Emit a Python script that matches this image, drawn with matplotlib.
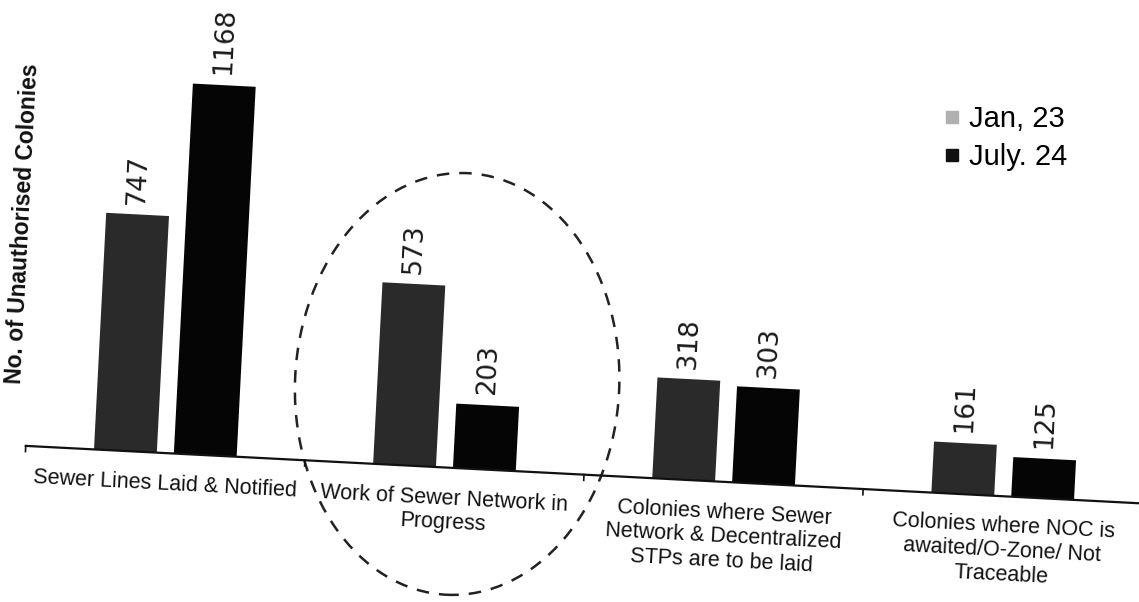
import matplotlib
matplotlib.use("Agg")
import matplotlib.pyplot as plt
from matplotlib.patches import Ellipse
from matplotlib.lines import Line2D
from matplotlib.transforms import Affine2D
import numpy as np

categories = [
    "Sewer Lines Laid & Notified",
    "Work of Sewer Network in\nProgress",
    "Colonies where Sewer\nNetwork & Decentralized\nSTPs are to be laid",
    "Colonies where NOC is\nawaited/O-Zone/ Not\nTraceable",
]
jan_23 = [747, 573, 318, 161]
july_24 = [1168, 203, 303, 125]
series_names = ["Jan, 23", "July. 24"]

plt.rcParams["font.family"] = ["Liberation Sans", "DejaVu Sans"]

W, H = 1139, 602
fig = plt.figure(figsize=(W / 100, H / 100), dpi=100)
# axes placed in pixels; the whole plot is tilted afterwards like the scan
ax = fig.add_axes([25.75 / W, 156 / H, 1118 / W, 444 / H])
ax.set_xlim(-0.5, 3.5)
ax.set_ylim(0, 1400)
ax.axis("off")

x = np.arange(len(categories))
bw = 0.225
off = 0.143
ax.bar(x - off, jan_23, bw, color="#2a2a2a")
ax.bar(x + off, july_24, bw, color="#050505")

for xi, v in zip(x - off, jan_23):
    ax.text(xi, v + 30, str(v), rotation=90, ha="center", va="bottom",
            fontsize=19, family="DejaVu Sans", color="#1a1a1a")
for xi, v in zip(x + off, july_24):
    ax.text(xi, v + 30, str(v), rotation=90, ha="center", va="bottom",
            fontsize=19, family="DejaVu Sans", color="#1a1a1a")

# baseline + ticks between categories
ax.plot([-0.5, 3.5], [0, 0], color="#111111", lw=1.6)
for b in np.arange(len(categories) + 1) - 0.5:
    ax.plot([b, b], [0, -18], color="#111111", lw=1.2)

for xi, lab in zip(x, categories):
    ax.text(xi, -45, lab, ha="center", va="top", fontsize=15.5, color="#111111")

# dashed ellipse around "work in progress"
ax.add_patch(Ellipse((1.03, 265), 1.16, 1331, fill=False, ls=(0, (5, 4)),
                     lw=1.8, ec="#222222"))

ax.text(-0.5 - 14 / 279.5, 700, "No. of Unauthorised Colonies", rotation=90,
        ha="center", va="center", fontsize=16.5, fontweight="bold", color="#111111")

rot = Affine2D().rotate_deg_around(28, 156, -2.95)
for p in ax.patches:
    p.set_transform(p.get_data_transform() + rot)
    p.set_clip_on(False)
for art in ax.lines + ax.texts:
    art.set_transform(art.get_transform() + rot)
    art.set_clip_on(False)
for t in ax.texts:
    t.set_transform_rotates_text(True)

handles = [Line2D([], [], ls="none", marker="s", markersize=8, color="#b0b0b0"),
           Line2D([], [], ls="none", marker="s", markersize=8, color="#111111")]
fig.legend(handles, series_names, loc="upper left", bbox_to_anchor=(0.815, 0.85),
           frameon=False, fontsize=21, handlelength=0.6, handletextpad=0.3,
           labelspacing=0.35, borderpad=0)

fig.savefig("out.png", dpi=100)
